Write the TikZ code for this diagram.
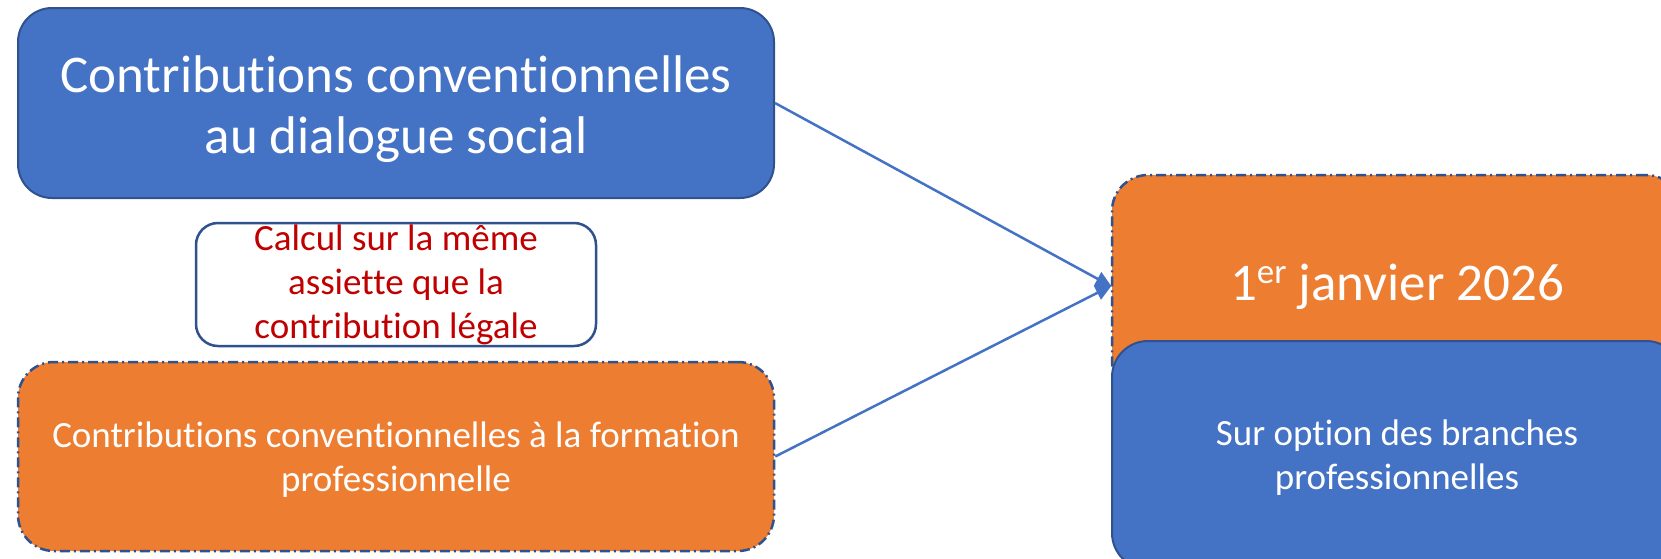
\documentclass[tikz,border=0pt]{standalone}
\usepackage{fontspec}
\setmainfont{Carlito}[Ligatures=NoCommon]
\usetikzlibrary{arrows.meta}
\definecolor{bfill}{HTML}{4472C4}
\definecolor{bline}{HTML}{2F528F}
\definecolor{ofill}{HTML}{ED7D31}
\definecolor{redtxt}{HTML}{C00000}
\tikzset{
  bluebox/.style={draw=bline, fill=bfill, line width=2pt, rounded corners=34pt, inner sep=0pt},
  orangebox/.style={draw=bline, fill=ofill, line width=2.5pt, dash pattern=on 10pt off 4pt on 2pt off 4pt, rounded corners=36pt, inner sep=0pt},
  notebox/.style={draw=bline, fill=white, line width=2.5pt, rounded corners=22pt, text=redtxt, align=center, inner sep=0pt},
  wtxt/.style={text=white, align=center, inner sep=0pt},
  big/.style={font=\fontsize{53}{61}\selectfont},
  mid/.style={font=\fontsize{37}{44}\selectfont},
  conn/.style={draw=bfill, line width=2.5pt, -{Triangle[length=16pt,width=15pt]}, shorten >=-1pt}
}
\begin{document}
\begin{tikzpicture}[x=1pt,y=-1pt]
\clip (0,0) rectangle (1661,558);
\fill[white] (0,0) rectangle (1661,558);
\node[bluebox, minimum width=756pt, minimum height=190pt] (top) at (396,103) {};
\node[wtxt, big] (toptext) at (396,109) {Contributions conventionnelles\\au dialogue social};
\node[notebox, mid, minimum width=400pt, minimum height=123pt] (note) at (396,284.5) {Calcul sur la même\\assiette que la\\contribution légale};
\node[orangebox, minimum width=756pt, minimum height=189pt] (bot) at (396,456.5) {};
\node[wtxt, mid] (bottext) at (396,460) {Contributions conventionnelles à la formation\\professionnelle};
\node[orangebox, minimum width=570pt, minimum height=222pt] (date) at (1397,286) {};
\node[wtxt, big] (datetext) at (1397,287) {1\raisebox{17pt}{\fontsize{35}{35}\selectfont er} janvier 2026};
\node[bluebox, rounded corners=36pt, minimum width=570pt, minimum height=228pt] (opt) at (1397,455) {};
\node[wtxt, mid] (opttext) at (1397,458) {Sur option des branches\\professionnelles};
\draw[conn] (top.east) -- (date.west);
\draw[conn] (bot.east) -- (date.west);
\end{tikzpicture}
\end{document}
